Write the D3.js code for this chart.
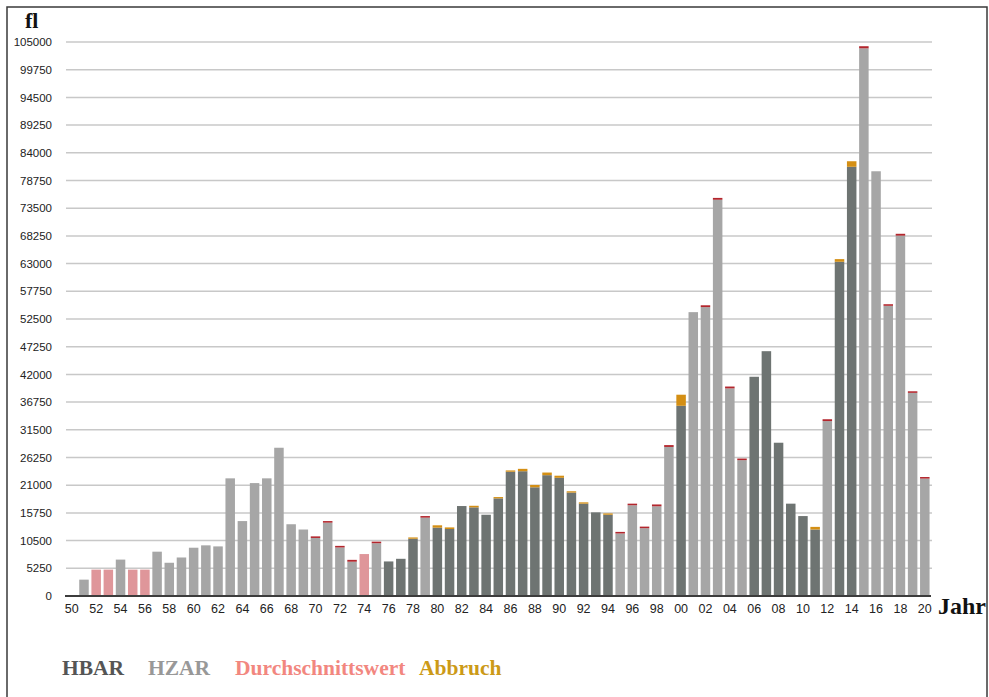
<!DOCTYPE html>
<html>
<head>
<meta charset="utf-8">
<script src="https://cdn.jsdelivr.net/npm/d3@7"></script>
<style>
  html, body { margin: 0; padding: 0; background: #fff; }
  svg { display: block; }
</style>
</head>
<body>
<svg id="chart" width="989" height="697"></svg>
<script>
// ---- data ----
const years = ["50","51","52","53","54","55","56","57","58","59",
               "60","61","62","63","64","65","66","67","68","69",
               "70","71","72","73","74","75","76","77","78","79",
               "80","81","82","83","84","85","86","87","88","89",
               "90","91","92","93","94","95","96","97","98","99",
               "00","01","02","03","04","05","06","07","08","09",
               "10","11","12","13","14","15","16","17","18","19","20"];
// B = HBAR, Z = HZAR, D = Durchschnittswert, "-" = none
const types = ["-","Z","D","D","Z","D","D","Z","Z","Z",
               "Z","Z","Z","Z","Z","Z","Z","Z","Z","Z",
               "Z","Z","Z","Z","D","Z","B","B","B","Z",
               "B","B","B","B","B","B","B","B","B","B",
               "B","B","B","B","B","Z","Z","Z","Z","Z",
               "B","Z","Z","Z","Z","Z","B","B","B","B",
               "B","B","Z","B","B","Z","Z","Z","Z","Z","Z"];
const baseValues = [0,3100,5000,5000,6900,5000,5000,8400,6300,7300,
               9150,9600,9400,22300,14200,21400,22300,28100,13600,12600,
               11000,13900,9200,6500,7950,10000,6550,7050,10850,14850,
               12950,12700,17050,16800,15400,18500,23550,23650,20600,22900,
               22400,19600,17500,15850,15400,11850,17200,12850,17000,28250,
               36050,53800,54750,75100,39350,25750,41550,46400,29050,17500,
               15150,12600,33150,63350,81350,103800,80500,55000,68300,38500,22250];
const abbruchValues = [0,0,0,0,0,0,0,0,0,0,
               0,0,0,0,0,0,0,0,0,0,
               300,300,300,350,0,300,0,0,250,300,
               450,300,0,300,0,250,250,450,450,500,
               400,250,250,0,250,300,300,300,350,350,
               2100,0,350,350,350,300,0,0,0,0,
               0,500,350,500,1050,400,0,300,350,300,300];
const yTicks = d3.range(0, 105001, 5250);
const legendItems = ["HBAR","HZAR","Durchschnittswert","Abbruch"];

// ---- styles ----
const fillBase = {B:"#6e7472", Z:"#a6a6a6", D:"#df969a"};
const fillCap  = {B:"#d48f14", Z:"#b3262d", D:"#b3262d"};
const legendColors = ["#555555","#989898","#f2877f","#cc9a17"];

const svg = d3.select("#chart");

// frame
svg.append("rect").attr("x",7).attr("y",7).attr("width",980).attr("height",720)
  .attr("fill","none").attr("stroke","#3a3a3a").attr("stroke-width",1.5);

const x = d3.scaleBand().domain(years).range([65.7, 930.9])
  .paddingInner(0.22).paddingOuter(0.11);
const y = d3.scaleLinear().domain([0,105000]).range([596, 42]);

// grid
svg.append("g").selectAll("line").data(yTicks.filter(d=>d>0)).join("line")
  .attr("x1",66).attr("x2",932)
  .attr("y1",d=>y(d)).attr("y2",d=>y(d))
  .attr("stroke","#c8c8c8").attr("stroke-width",1.5);

// bars
const data = years.map((yr,i)=>({yr, t:types[i], v:baseValues[i], c:abbruchValues[i]}));
const bars = svg.append("g");
bars.selectAll("rect.base").data(data.filter(d=>d.v>0)).join("rect")
  .attr("class","base")
  .attr("x",d=>x(d.yr)).attr("width",x.bandwidth())
  .attr("y",d=>y(d.v)).attr("height",d=>y(0)-y(d.v))
  .attr("fill",d=>fillBase[d.t]);
bars.selectAll("rect.cap").data(data.filter(d=>d.c>0)).join("rect")
  .attr("class","cap")
  .attr("x",d=>x(d.yr)).attr("width",x.bandwidth())
  .attr("y",d=>y(d.v+d.c)).attr("height",d=>y(d.v)-y(d.v+d.c))
  .attr("fill",d=>fillCap[d.t]);

// baseline
svg.append("line").attr("x1",65).attr("x2",931).attr("y1",y(0)).attr("y2",y(0))
  .attr("stroke","#3c3c3c").attr("stroke-width",2);

// y axis
const yAxis = svg.append("g").attr("transform","translate(66,0)")
  .call(d3.axisLeft(y).tickValues(yTicks).tickSize(0).tickPadding(14).tickFormat(d=>String(d)));
yAxis.select(".domain").remove();
yAxis.selectAll("text").attr("font-family","'Liberation Sans', Arial, sans-serif")
  .attr("font-size","11.5px").attr("fill","#222");

// x axis
const xAxis = svg.append("g").attr("transform",`translate(0,${y(0)})`)
  .call(d3.axisBottom(x).tickValues(years.filter((d,i)=>i%2===0)).tickSize(0));
xAxis.select(".domain").remove();
xAxis.selectAll("text").attr("y",17).attr("dy",0)
  .attr("font-family","'Liberation Sans', Arial, sans-serif")
  .attr("font-size","12.5px").attr("fill","#222");

// axis titles
svg.append("text").attr("x",25).attr("y",28).text("fl")
  .attr("font-family","'Liberation Serif', 'Times New Roman', serif")
  .attr("font-weight","bold").attr("font-size","22px").attr("fill","#111");
svg.append("text").attr("x",938).attr("y",614).text("Jahr")
  .attr("font-family","'Liberation Serif', 'Times New Roman', serif")
  .attr("font-weight","bold").attr("font-size","24px").attr("fill","#111");

// legend
const legendX = [62,148,235,419];
svg.append("g").selectAll("text").data(legendItems).join("text")
  .attr("x",(d,i)=>legendX[i]).attr("y",675)
  .text(d=>d)
  .attr("font-family","'Liberation Serif', 'Times New Roman', serif")
  .attr("font-weight","bold").attr("font-size","21.5px")
  .attr("fill",(d,i)=>legendColors[i]);
</script>
</body>
</html>
